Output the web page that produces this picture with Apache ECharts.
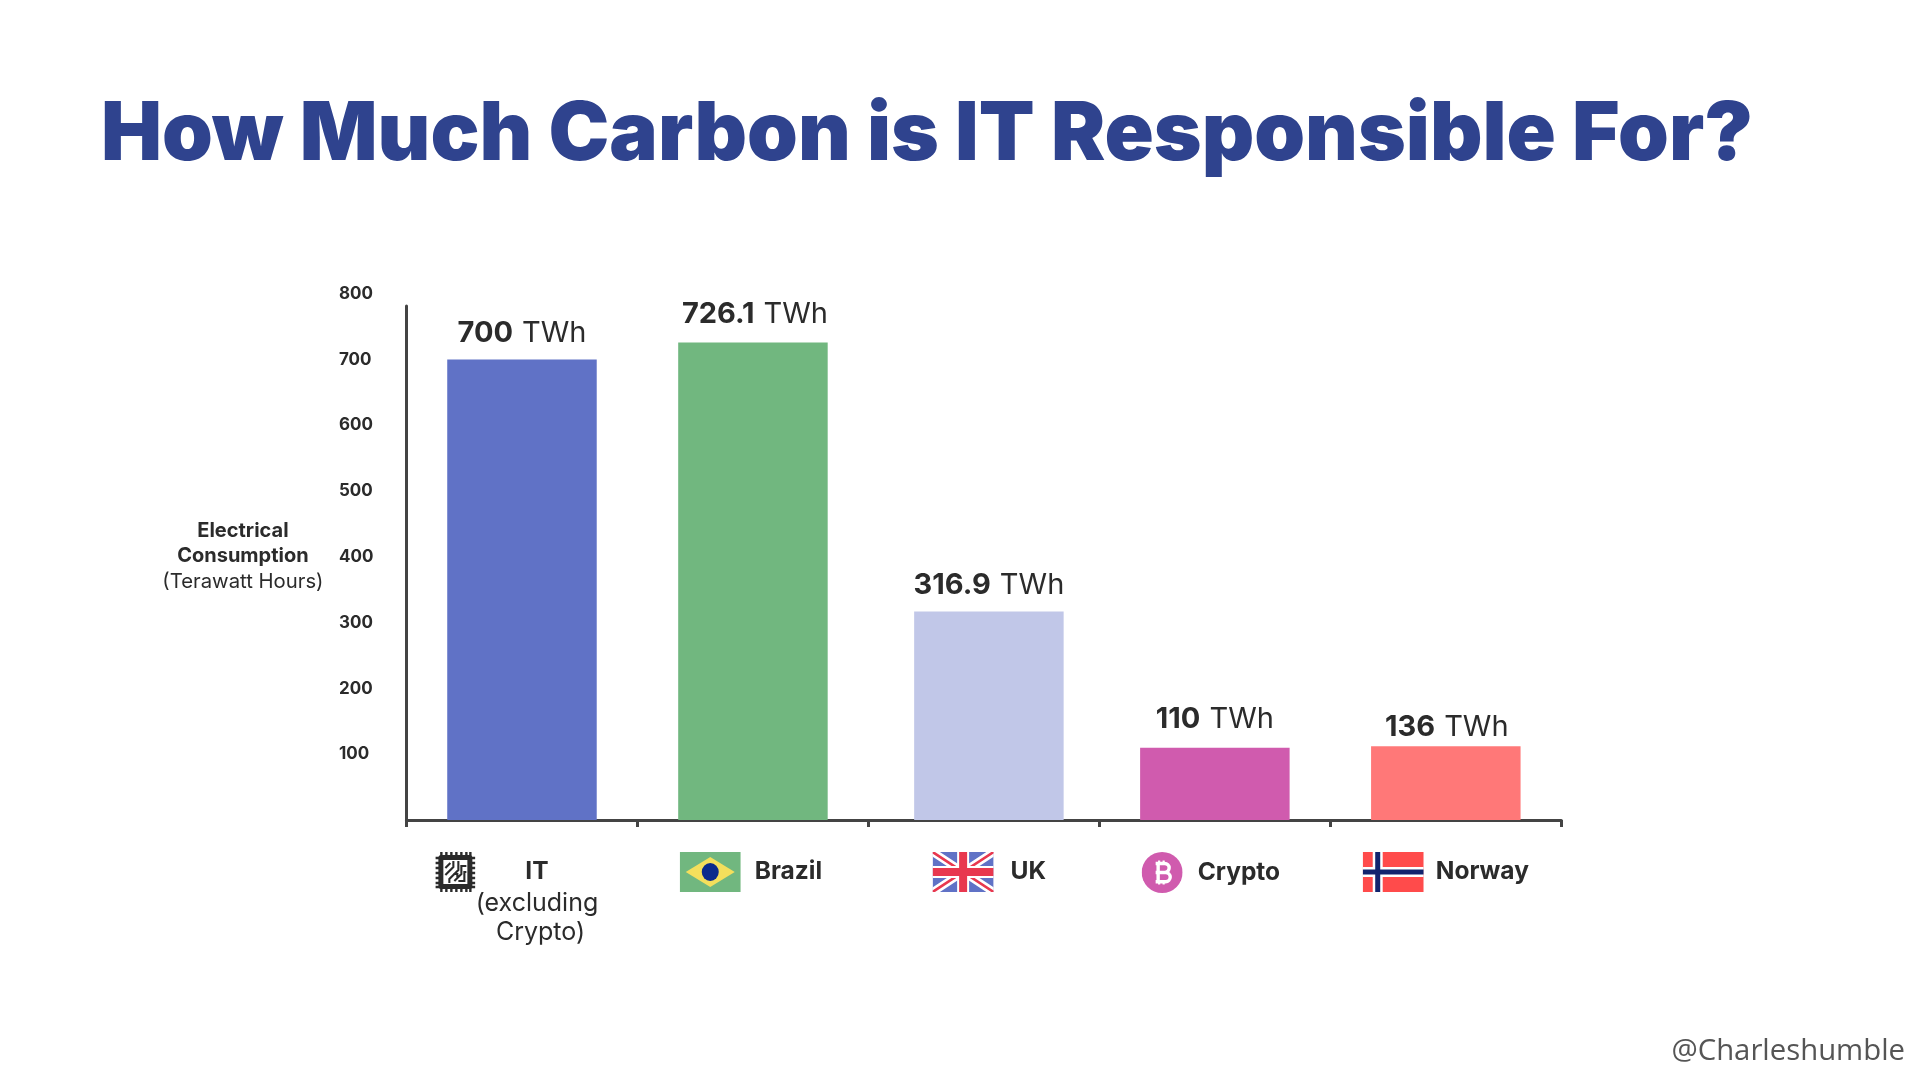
<!DOCTYPE html>
<html>
<head>
<meta charset="utf-8">
<style>html,body{margin:0;padding:0;background:#fff}#c{width:1920px;height:1080px}</style>
<script src="https://cdn.jsdelivr.net/npm/echarts@6/dist/echarts.min.js"></script>
</head>
<body>
<div id="c"></div>
<script>
const categories = ['IT', 'Brazil', 'UK', 'Crypto', 'Norway'];
const barHeights = [700, 726.1, null, 110, 112];
const ukBarHeights = [null, null, 316.9, null, null];
const labelNumbers = ['700', '726.1', '316.9', '110', '136'];
const barColors = ['#6072C6', '#71B77F', '#C1C7E8', '#D05BAE', '#FF7878'];
const tickValues = ['100', '200', '300', '400', '500', '600', '700', '800'];

const svg = s => 'data:image/svg+xml;charset=utf-8,' + encodeURIComponent(s);
const iconBrazil = svg('<svg xmlns="http://www.w3.org/2000/svg" width="183" height="120" viewBox="0 0 61 40"><rect width="61" height="40" fill="#71B77F"/><path d="M30.5 5 L55 20 L30.5 35 L6 20 Z" fill="#F4DF5C"/><ellipse cx="30.5" cy="20" rx="8.5" ry="9" fill="#0A2A8C"/></svg>');
const iconUK = svg('<svg xmlns="http://www.w3.org/2000/svg" width="183" height="120" viewBox="0 0 61 40"><rect width="61" height="40" fill="#6072C6"/><path d="M0 0 L61 40 M61 0 L0 40" stroke="#fff" stroke-width="8"/><path d="M0 0 L61 40 M61 0 L0 40" stroke="#E8384F" stroke-width="2.6"/><path d="M30.5 0 V40 M0 20 H61" stroke="#fff" stroke-width="12"/><path d="M30.5 0 V40 M0 20 H61" stroke="#E8384F" stroke-width="8"/></svg>');
const iconNorway = svg('<svg xmlns="http://www.w3.org/2000/svg" width="183" height="120" viewBox="0 0 61 40"><rect width="61" height="40" fill="#FF4B4B"/><path d="M15 0 V40 M0 20 H61" stroke="#fff" stroke-width="10"/><path d="M15 0 V40 M0 20 H61" stroke="#12246E" stroke-width="5"/></svg>');
const iconCrypto = svg('<svg xmlns="http://www.w3.org/2000/svg" width="123" height="123" viewBox="0 0 41 41"><circle cx="20.5" cy="20.5" r="20.5" fill="#D05BAE"/><path d="M17.5 8.5v3.5M22 8.5v3.5M17.5 29v3.5M22 29v3.5" stroke="#fff" stroke-width="2.2"/><path d="M14 11.5h9a4.5 4.5 0 0 1 0 9h-9 M14 20.5h10a4.6 4.6 0 0 1 0 9.2h-10 M16.5 11.5v18" fill="none" stroke="#fff" stroke-width="3.4"/></svg>');
const iconChip = svg('<svg xmlns="http://www.w3.org/2000/svg" width="120" height="120" viewBox="0 0 40 40"><path d="M6 0v40M11 0v40M16 0v40M21 0v40M26 0v40M31 0v40M35 0v40M0 6h40M0 11h40M0 16h40M0 21h40M0 26h40M0 31h40M0 35h40" stroke="#2b2b2b" stroke-width="2.4"/><rect x="3" y="3" width="34" height="34" rx="3" fill="#2b2b2b"/><rect x="8" y="8" width="24" height="24" fill="#fff"/><path d="M10 23 L18 15 V9 M10 16 L15 11 M23 9 V18 L14 27 V31 M31 14 H26 V22 L19 29 M31 20 H29 V29 H23 M18 22 H22 V26" fill="none" stroke="#2b2b2b" stroke-width="2.1"/></svg>');

const mainFont = 'Inter';
const textColor = '#2b2b2b';
const labelFormatters = {
  IT: '{chip|}{g1|}{strong|IT}{g2|}\n{s2|}{reg|(excluding}\n{s3|}{reg3|Crypto)}',
  Brazil: '{brazil|}{gb|}{strong|Brazil}{rb|}',
  UK: '{lu|}{uk|}{gu|}{strong|UK}',
  Crypto: '{crypto|}{gc|}{strong|Crypto}{rc|}',
  Norway: '{norway|}{gn|}{strong|Norway}'
};
const icon = (img, w, h) => ({ width: w, height: h, backgroundColor: { image: img } });
const gap = w => ({ width: w, height: 1 });

const barLabel = {
  show: true, position: 'top',
  formatter: p => '{b|' + labelNumbers[p.dataIndex] + '}{n|TWh}',
  rich: {
    b: { fontFamily: mainFont, fontWeight: 700, fontSize: 29, color: textColor },
    n: { fontFamily: mainFont, fontWeight: 400, fontSize: 29, color: textColor, padding: [0, 0, 0, 9] }
  }
};
const labelDistance = [12, 13.5, 12, 14, 5];
const labelShift = [0, 2, 0, 0, 1];
const toData = arr => arr.map((v, i) => v === null ? null : ({
  value: v,
  itemStyle: { color: barColors[i] },
  label: { distance: labelDistance[i], offset: [labelShift[i], 0] }
}));

const chart = echarts.init(document.getElementById('c'), null, { renderer: 'canvas' });
chart.setOption({
  animation: false,
  backgroundColor: '#ffffff',
  title: {
    text: 'How Much Carbon is IT Responsible For?',
    left: 96, top: 90,
    textStyle: { fontFamily: mainFont, fontWeight: 900, fontSize: 81.4, color: '#2F438E' }
  },
  grid: [
    { left: 406.5, right: 358.7, top: 293.8, bottom: 260 },
    { left: 406.5, right: 358.7, top: 306, bottom: 260 },
    { left: 411.5, right: 353.7, top: 293.8, bottom: 260 }
  ],
  xAxis: [
    {
      type: 'category', gridIndex: 0, data: categories,
      axisLine: { lineStyle: { color: '#444', width: 3 } },
      axisTick: { show: true, alignWithLabel: false, length: 7, lineStyle: { color: '#444', width: 3 } },
      axisLabel: {
        interval: 0, margin: 32, verticalAlign: 'top', hideOverlap: false,
        formatter: v => labelFormatters[v],
        rich: {
          chip: icon(iconChip, 40, 40), brazil: icon(iconBrazil, 61, 40), uk: icon(iconUK, 61, 40),
          crypto: icon(iconCrypto, 41, 41), norway: icon(iconNorway, 61, 40),
          g1: gap(50), g2: gap(60), s2: gap(30), s3: gap(37),
          gb: gap(14), gu: gap(17), gc: gap(15), gn: gap(12), lu: gap(11), rc: gap(8), rb: gap(4),
          strong: { fontFamily: mainFont, fontWeight: 700, fontSize: 24.5, color: textColor },
          reg: { fontFamily: mainFont, fontWeight: 400, fontSize: 25, color: textColor, lineHeight: 22 },
          reg3: { fontFamily: mainFont, fontWeight: 400, fontSize: 25, color: textColor, lineHeight: 36 }
        }
      }
    },
    { type: 'category', gridIndex: 1, data: categories, show: false },
    { type: 'category', gridIndex: 2, data: categories, show: false }
  ],
  yAxis: [
    {
      type: 'value', gridIndex: 0, min: 0, max: 800, interval: 100,
      axisLine: { show: false }, axisTick: { show: false }, splitLine: { show: false },
      axisLabel: {
        align: 'left', margin: 67.5,
        formatter: v => tickValues.includes(String(v)) ? String(v) : '',
        fontFamily: mainFont, fontWeight: 700, fontSize: 17, color: textColor
      },
      name: '{nb|Electrical}\n{nb|Consumption}\n{nr|(Terawatt Hours)}',
      nameLocation: 'middle', nameRotate: 0, nameGap: 83, nameMoveOverlap: false,
      nameTextStyle: {
        rich: {
          nb: { fontFamily: mainFont, fontWeight: 700, fontSize: 20, color: textColor, lineHeight: 24.5, align: 'center' },
          nr: { fontFamily: mainFont, fontWeight: 400, fontSize: 20.3, color: textColor, lineHeight: 27, align: 'center' }
        }
      }
    },
    {
      type: 'value', gridIndex: 1, min: 0, max: 780, show: true,
      axisLine: { show: true, lineStyle: { color: '#444', width: 3 } },
      axisTick: { show: false }, axisLabel: { show: false }, splitLine: { show: false }
    },
    { type: 'value', gridIndex: 2, min: 0, max: 800, show: false }
  ],
  series: [
    { type: 'bar', xAxisIndex: 0, yAxisIndex: 0, barWidth: 149.5, data: toData(barHeights), label: barLabel },
    { type: 'bar', xAxisIndex: 2, yAxisIndex: 2, barWidth: 149.5, data: toData(ukBarHeights), label: barLabel }
  ],
  graphic: [{
    type: 'text', right: 15, top: 1037,
    style: { text: '@Charleshumble', font: '400 29.3px "Open Sans"', fill: '#555' }
  }]
});
</script>
</body>
</html>
